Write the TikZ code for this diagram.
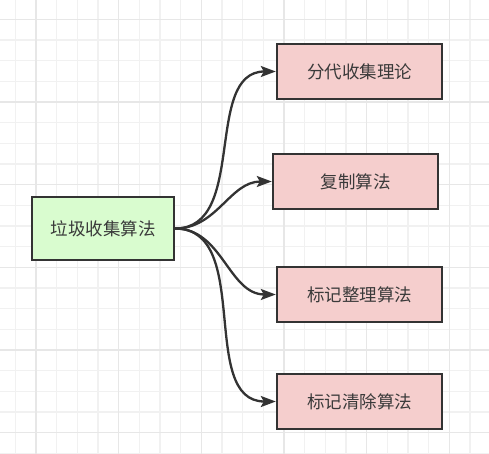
\documentclass[tikz,border=0pt]{standalone}
\usepackage{fontspec}
\newfontfamily\cjk{Noto Sans CJK SC}
\usetikzlibrary{arrows.meta}
\definecolor{gridminor}{HTML}{F1F1F1}
\definecolor{gridmajor}{HTML}{E7E7E7}
\definecolor{edgecol}{HTML}{333333}
\definecolor{greenfill}{HTML}{D9FCCF}
\definecolor{pinkfill}{HTML}{F5CECD}
\definecolor{textcol}{HTML}{3A3A3A}
\tikzset{
  box/.style={draw=edgecol, line width=2.4pt, font=\cjk\fontsize{17.5pt}{20pt}\selectfont, text=textcol, inner sep=0pt},
  rootbox/.style={box, fill=greenfill, minimum width=142pt, minimum height=63pt},
  leafbox/.style={box, fill=pinkfill, minimum width=165pt, minimum height=55pt},
  conn/.style={draw=edgecol, line width=2.3pt, -{Stealth[length=15pt,width=11pt,inset=3pt]}},
}
\begin{document}
\begin{tikzpicture}[x=1pt,y=-1pt]
\useasboundingbox (0,0) rectangle (489,454);
\fill[white] (0,0) rectangle (489,454);
% minor grid
\foreach \i in {0,...,23} {
  \draw[gridminor, line width=1.2pt] ({15.3+20.667*\i},0) -- ({15.3+20.667*\i},454);
}
\foreach \i in {-1,...,22} {
  \draw[gridminor, line width=1.2pt] (0,{19.3+20.667*\i}) -- (489,{19.3+20.667*\i});
}
% major grid
\foreach \i in {0,...,5} {
  \draw[gridmajor, line width=1.2pt] ({36+82.667*\i},0) -- ({36+82.667*\i},454);
}
\foreach \i in {0,...,5} {
  \draw[gridmajor, line width=1.2pt] (0,{19.3+82.667*\i}) -- (489,{19.3+82.667*\i});
}
\node[rootbox] (root) at (103,228.5) {垃圾收集算法};
\node[leafbox] (a) at (359.5,71.5) {分代收集理论};
\node[leafbox] (b) at (355.5,181.5) {复制算法};
\node[leafbox] (c) at (359.5,294.5) {标记整理算法};
\node[leafbox] (d) at (359.5,401.5) {标记清除算法};
\foreach \t in {a,b,c,d} {
  \draw[conn] (root.east) to[out=0,in=180] (\t.west);
}
\end{tikzpicture}
\end{document}
